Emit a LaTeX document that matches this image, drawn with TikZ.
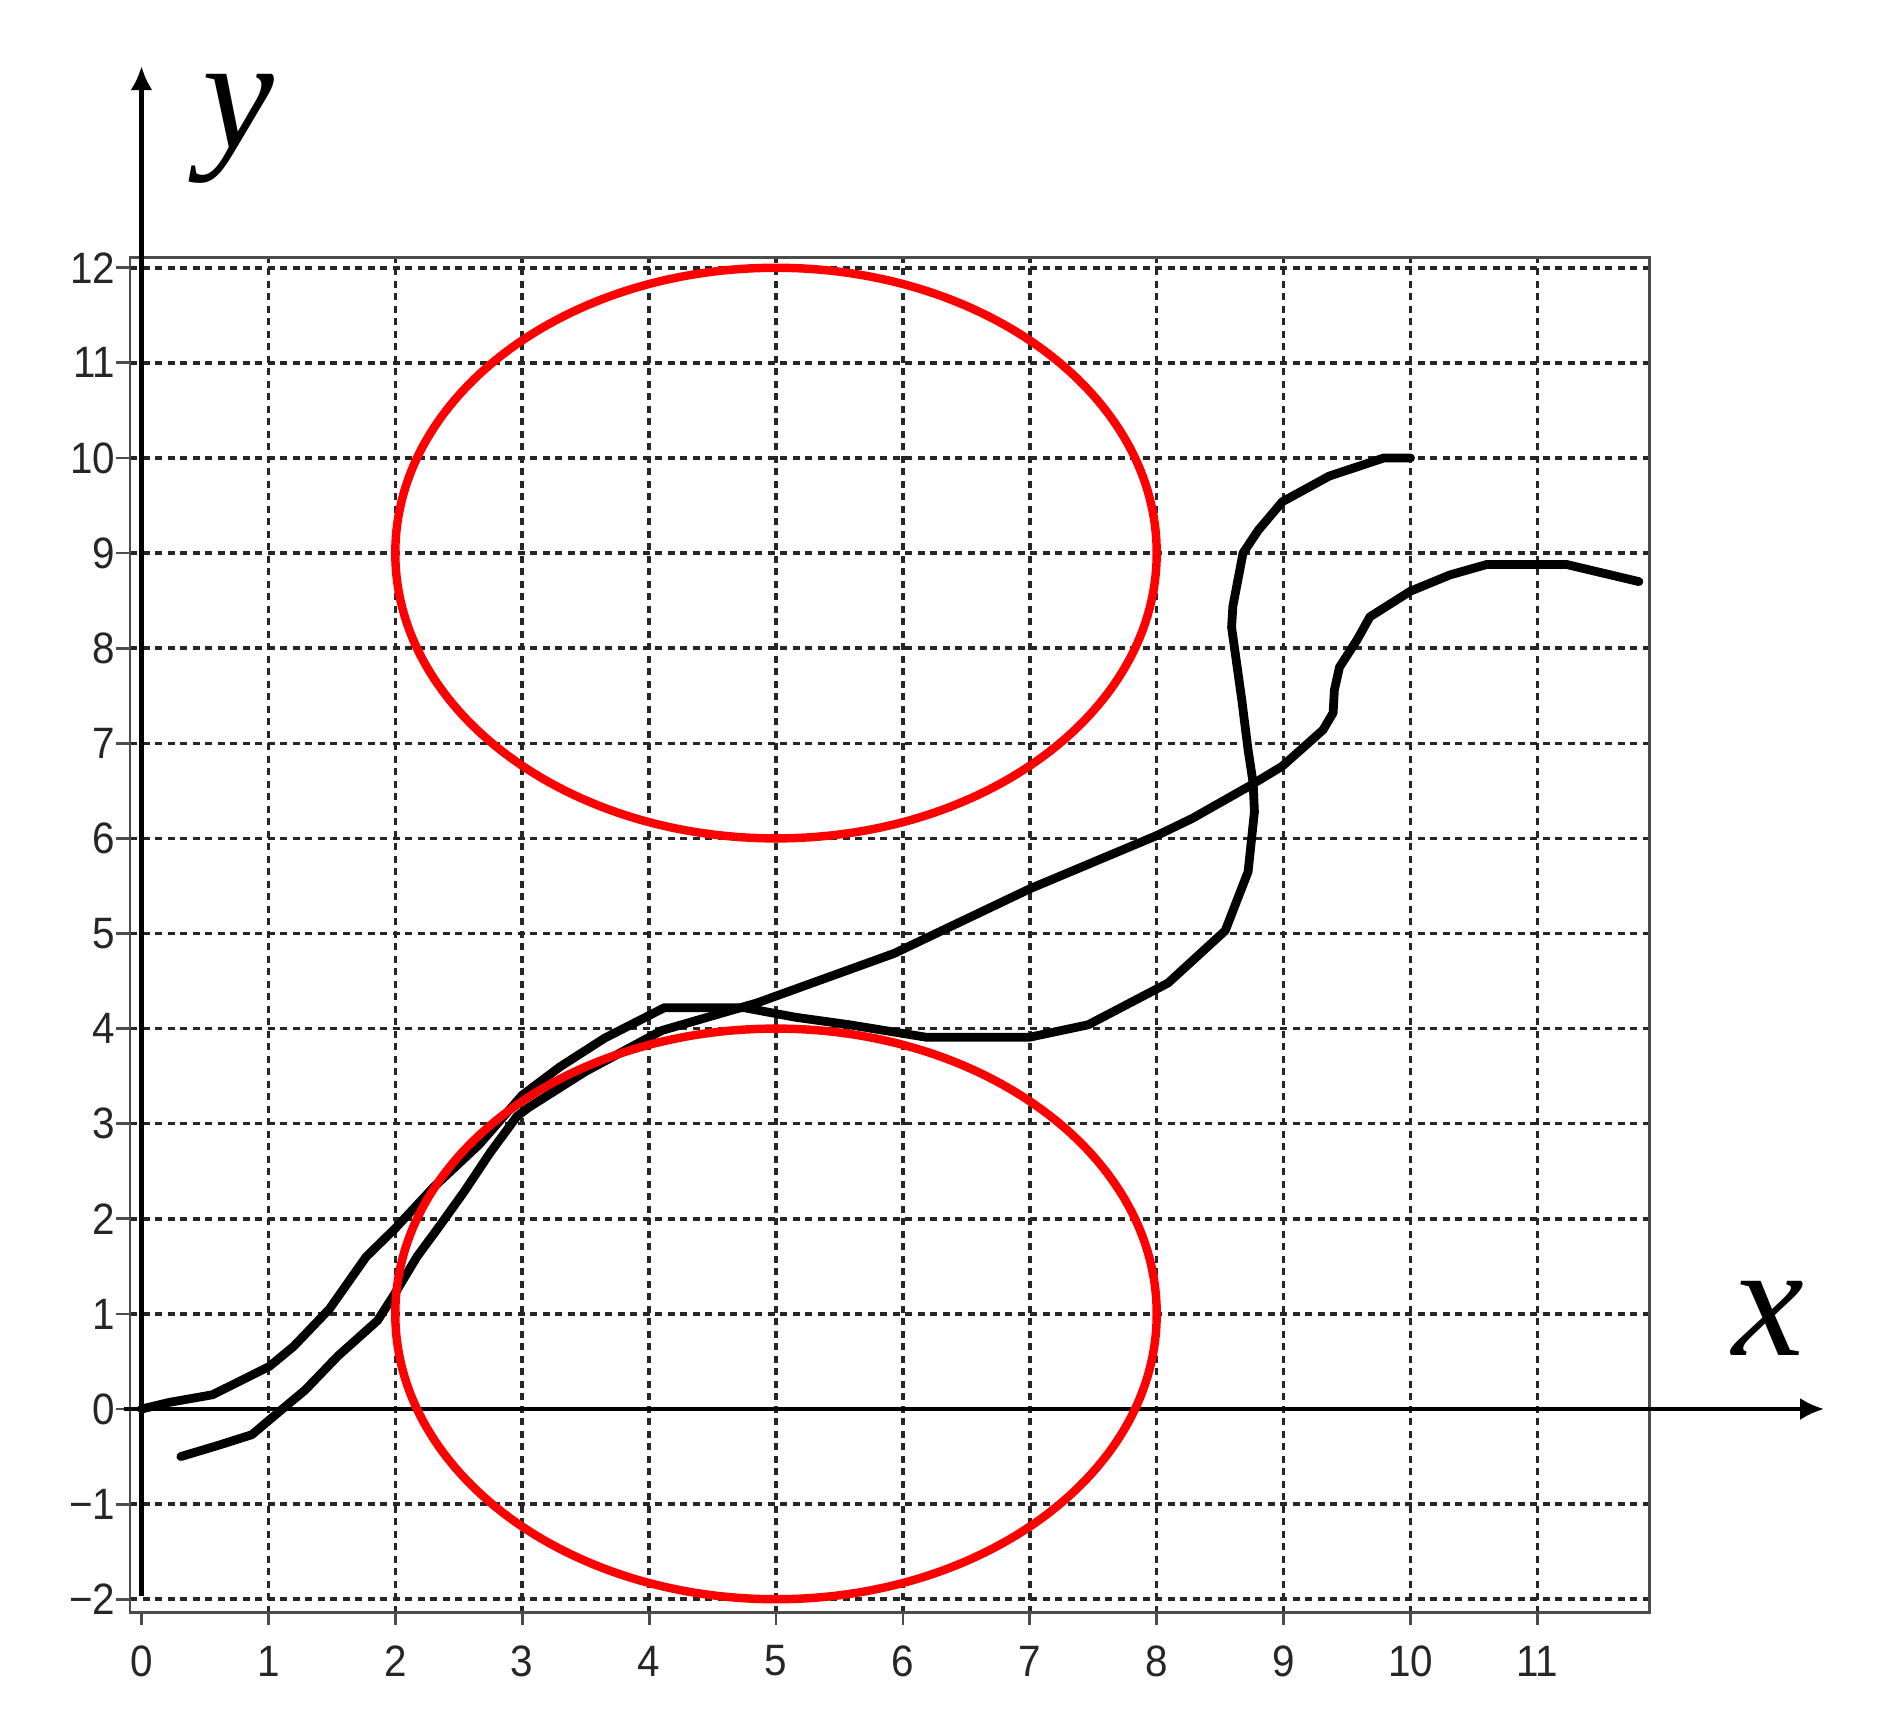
\documentclass[tikz,border=0pt]{standalone}
\usepackage{fontspec}
\newfontfamily\tickfont{Liberation Sans}[FakeStretch=0.92]
\newfontfamily\letterfont{Liberation Serif}
\usetikzlibrary{arrows.meta}
\begin{document}
\begin{tikzpicture}[x=1.269cm, y=0.951cm,
    gridline/.style={draw=black!85, line width=1pt, dash pattern=on 0.7mm off 0.55mm},
    frameline/.style={draw=black!70, line width=0.8pt},
    axis/.style={line width=1.2pt, -{Latex[length=2.4mm,width=2.2mm]}},
    curve/.style={line width=2.5pt, line join=round, line cap=round},
    ring/.style={draw=red, line width=2.4pt},
    ticklabel/.style={font=\tickfont\fontsize{12.5}{15}\selectfont, inner sep=0pt, text=black!85},
    letter/.style={font=\letterfont\itshape\fontsize{46}{50}\selectfont, inner sep=0pt}]
    \useasboundingbox (-1.115,-3.323) rectangle (13.802,14.816);
    % grid
    \foreach \x in {1,...,11}
        \draw[gridline] (\x,-2.14) -- (\x,12.11);
    \foreach \y in {-2,...,12}
        \draw[gridline] (-0.09,\y) -- (11.88,\y);
    \draw[frameline] (-0.09,-2.14) rectangle (11.88,12.11);
    % ticks
    \foreach \x in {0,...,11} {
        \draw[frameline] (\x,-2.14) -- (\x,-2.27);
        \node[ticklabel] (xt\x) at (\x,-2.65) {\x};
    }
    \foreach \y/\t in {-2/{−2},-1/{−1},0/0,1/1,2/2,3/3,4/4,5/5,6/6,7/7,8/8,9/9,10/10,11/11,12/12} {
        \draw[frameline] (-0.09,\y) -- (-0.2,\y);
        \node[ticklabel, anchor=east] (yt\y) at (-0.2,\y) {\t};
    }
    % axes
    \draw[axis] (-0.14,0) -- (13.26,0);
    \draw[axis] (0,-1.97) -- (0,14.12);
    \node[letter] (xlab) at (12.82,0.95) {x};
    \node[letter] (ylab) at (0.76,13.46) {y};
    % curves
    \draw[curve] plot coordinates {(0,0) (0.22,0.07) (0.56,0.15) (1.01,0.45) (1.2,0.66)
        (1.48,1.05) (1.77,1.6) (2,1.9) (2.3,2.33) (2.66,2.78) (3.0,3.3) (3.3,3.6)
        (3.65,3.9) (4.12,4.22) (4.75,4.22) (5.15,4.12) (5.58,4.04) (6.18,3.91) (7,3.91)
        (7.46,4.04) (8.09,4.48) (8.54,5.03) (8.72,5.65) (8.77,6.28) (8.76,6.58)
        (8.72,6.93) (8.67,7.46) (8.63,7.84) (8.59,8.22) (8.6,8.44) (8.68,9.0)
        (8.8,9.24) (8.99,9.54) (9.36,9.81) (9.79,10) (10,10)};
    \draw[curve] plot coordinates {(0.31,-0.5) (0.61,-0.38) (0.87,-0.27) (1.11,0)
        (1.29,0.2) (1.55,0.56) (1.86,0.93) (1.99,1.2) (2.17,1.6) (2.33,1.89)
        (2.54,2.28) (2.75,2.7) (2.96,3.08) (3.05,3.17) (3.5,3.55) (4.1,3.98)
        (4.85,4.27) (5.93,4.79) (7,5.47) (8,6.03) (8.28,6.21) (8.73,6.55) (8.99,6.76)
        (9.31,7.14) (9.39,7.32) (9.4,7.56) (9.44,7.8) (9.58,8.09) (9.68,8.33)
        (10,8.6) (10.31,8.77) (10.6,8.88) (11.23,8.88) (11.8,8.7)};
    % circles
    \draw[ring] (5,9) circle [radius=3];
    \draw[ring] (5,1) circle [radius=3];
\end{tikzpicture}
\end{document}
